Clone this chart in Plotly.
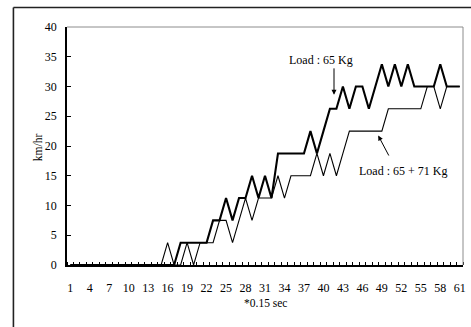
import plotly.graph_objects as go

# sample index (each step = 0.15 s)
samples = list(range(1, 62))

# speed, km/hr — single rider (65 Kg)
speed_65 = [0]*17 + [3.75, 3.75, 3.75, 3.75, 3.75,            # 18-22
            7.5, 7.5, 11.25, 7.5, 11.25, 11.25, 15, 11.25,    # 23-30
            15, 11.25, 18.75, 18.75, 18.75, 18.75, 18.75,     # 31-37
            22.5, 18.75, 22.5, 26.25, 26.25, 30, 26.25,       # 38-44
            30, 30, 26.25, 30, 33.75, 30, 33.75, 30, 33.75,   # 45-53
            30, 30, 30, 30, 33.75, 30, 30, 30]                # 54-61

# speed, km/hr — rider plus load (65 + 71 Kg)
speed_136 = [0]*15 + [3.75, 0, 0, 3.75, 0, 3.75, 3.75, 3.75,  # 16-23
             7.5, 7.5, 3.75, 7.5, 11.25, 7.5, 11.25, 11.25,   # 24-31
             11.25, 15, 11.25, 15, 15, 15, 15, 18.75, 15,     # 32-40
             18.75, 15, 18.75, 22.5, 22.5, 22.5, 22.5, 22.5,  # 41-48
             22.5, 26.25, 26.25, 26.25, 26.25, 26.25, 26.25,  # 49-55
             30, 30, 26.25, 30, 30, 30]                       # 56-61

x_labels = list(range(1, 62, 3))
y_ticks = list(range(0, 41, 5))

SERIF = "Liberation Serif"

fig = go.Figure()
fig.add_trace(go.Scatter(x=samples, y=speed_136, mode="lines",
                         line=dict(color="black", width=1.1),
                         name="Load : 65 + 71 Kg", showlegend=False))
fig.add_trace(go.Scatter(x=samples, y=speed_65, mode="lines",
                         line=dict(color="black", width=2.1),
                         name="Load : 65 Kg", showlegend=False))

# plot-area frame: grey top and right edges
fig.add_shape(type="line", xref="paper", yref="paper", x0=0, x1=1, y0=1, y1=1,
              line=dict(color="#8c8c8c", width=1))
fig.add_shape(type="line", xref="paper", yref="paper", x0=1, x1=1, y0=0, y1=1,
              line=dict(color="#8c8c8c", width=1))
# chart-area border (left and top edges fall inside the page)
fig.add_shape(type="line", xref="paper", yref="paper",
              x0=-0.1353, x1=1.03, y0=1.082, y1=1.082,
              line=dict(color="#222222", width=1.6))
fig.add_shape(type="line", xref="paper", yref="paper",
              x0=-0.1353, x1=-0.1353, y0=-0.27, y1=1.082,
              line=dict(color="#222222", width=1.6))

# callout arrows
fig.add_annotation(x=41.63, y=28.6, ax=41.63, ay=33.3, xref="x", yref="y",
                   axref="x", ayref="y", text="", showarrow=True,
                   arrowhead=2, arrowsize=1, arrowwidth=1, arrowcolor="black")
fig.add_annotation(x=48.44, y=21.76, ax=50.19, ay=18.15, xref="x", yref="y",
                   axref="x", ayref="y", text="", showarrow=True,
                   arrowhead=2, arrowsize=1, arrowwidth=1, arrowcolor="black")
fig.add_annotation(x=39.64, y=34.45, text="Load : 65 Kg", showarrow=False,
                   font=dict(family=SERIF, size=12, color="black"))
fig.add_annotation(x=52.18, y=15.8, text="Load : 65 + 71 Kg", showarrow=False,
                   font=dict(family=SERIF, size=12, color="black"))

# axis titles
fig.add_annotation(xref="paper", yref="paper", x=-0.0927, y=0.496,
                   text="km/hr", textangle=-90, showarrow=False,
                   font=dict(family=SERIF, size=11.5, color="black"))
fig.add_annotation(xref="paper", yref="paper", x=0.5, y=-0.193,
                   text="*0.15 sec", showarrow=False,
                   font=dict(family=SERIF, size=11.5, color="black"))

fig.update_layout(
    width=471, height=327,
    margin=dict(l=67, r=5, t=27, b=62),
    paper_bgcolor="white", plot_bgcolor="white",
    showlegend=False,
    font=dict(family=SERIF, size=12, color="black"),
    xaxis=dict(range=[0.5, 61.5], tickvals=x_labels, ticks="",
               showgrid=False, zeroline=False,
               showline=True, linecolor="black", linewidth=1.5,
               ticklabelstandoff=11,
               tickfont=dict(family=SERIF, size=12, color="black"),
               minor=dict(tick0=0.5, dtick=1, ticks="inside", ticklen=3,
                          tickcolor="black", tickwidth=1, showgrid=False)),
    yaxis=dict(range=[0, 40], tickvals=y_ticks, ticks="inside", ticklen=4,
               tickcolor="black", showgrid=False, zeroline=False,
               showline=True, linecolor="black", linewidth=1.5,
               ticklabelstandoff=6,
               tickfont=dict(family=SERIF, size=12, color="black")),
)

fig.write_html("out.html")
